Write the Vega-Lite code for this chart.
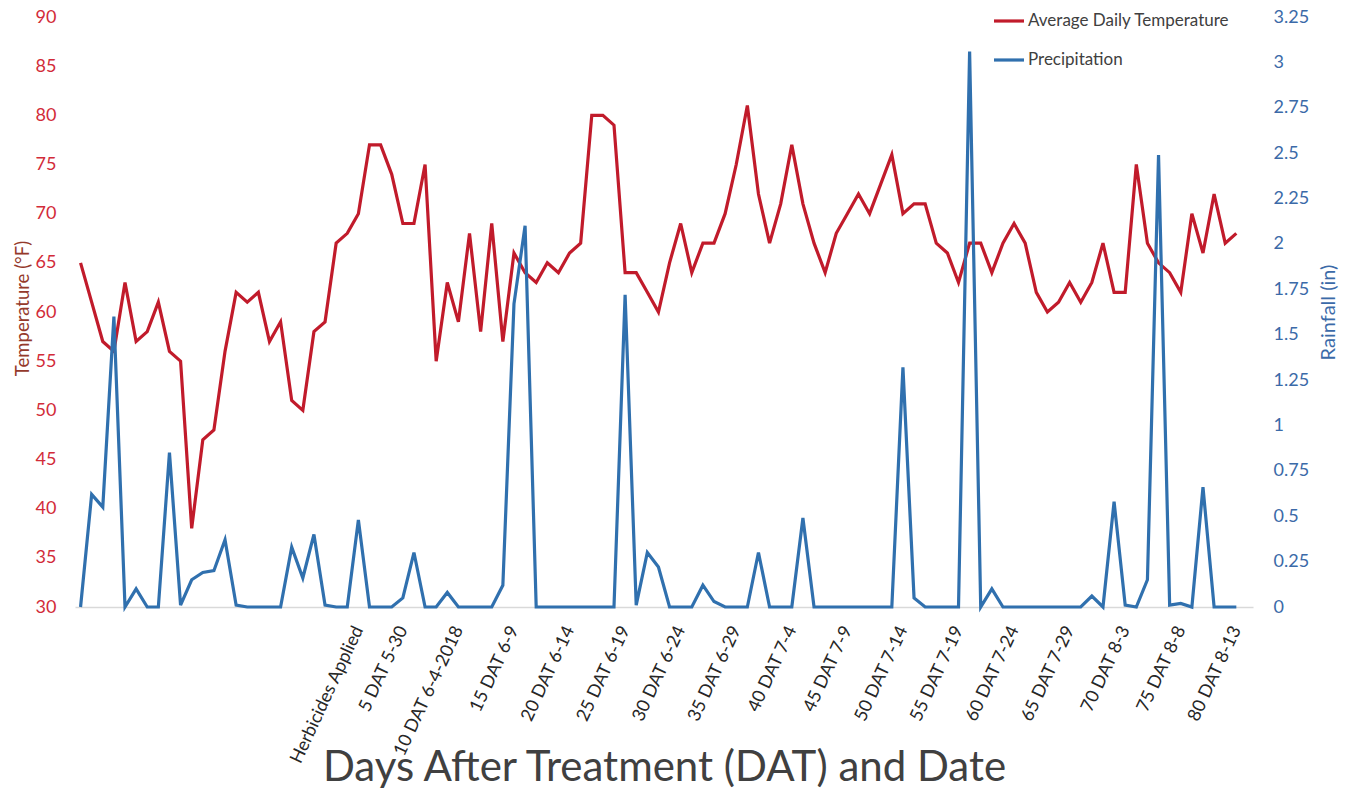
{
  "$schema": "https://vega.github.io/schema/vega-lite/v6.json",
  "width": 1178,
  "height": 590,
  "autosize": "none",
  "padding": {"left": 75, "top": 17, "right": 92, "bottom": 182},
  "background": "white",
  "config": {
    "view": {"stroke": null},
    "font": "Lato",
    "axis": {"grid": false, "ticks": false, "labelFont": "Lato", "titleFont": "Lato", "titleFontWeight": "normal"},
    "legend": {
      "orient": "none",
      "legendX": 917,
      "legendY": -13,
      "padding": 0,
      "symbolType": "stroke",
      "symbolSize": 900,
      "symbolStrokeWidth": 3.2,
      "labelFont": "Lato",
      "labelFontSize": 17,
      "labelColor": "#404040",
      "labelOffset": 2,
      "labelLimit": 0,
      "rowPadding": 14,
      "titleFontSize": 0
    }
  },
  "data": {
    "values": [
      {"i":0,"t":65,"p":0},{"i":1,"t":61,"p":0.62},{"i":2,"t":57,"p":0.55},{"i":3,"t":56,"p":1.6},{"i":4,"t":63,"p":0},
      {"i":5,"t":57,"p":0.1},{"i":6,"t":58,"p":0},{"i":7,"t":61,"p":0},{"i":8,"t":56,"p":0.85},{"i":9,"t":55,"p":0.01},
      {"i":10,"t":38,"p":0.15},{"i":11,"t":47,"p":0.19},{"i":12,"t":48,"p":0.2},{"i":13,"t":56,"p":0.37},{"i":14,"t":62,"p":0.01},
      {"i":15,"t":61,"p":0},{"i":16,"t":62,"p":0},{"i":17,"t":57,"p":0},{"i":18,"t":59,"p":0},{"i":19,"t":51,"p":0.33},
      {"i":20,"t":50,"p":0.16},{"i":21,"t":58,"p":0.4},{"i":22,"t":59,"p":0.01},{"i":23,"t":67,"p":0},{"i":24,"t":68,"p":0},
      {"i":25,"t":70,"p":0.48},{"i":26,"t":77,"p":0},{"i":27,"t":77,"p":0},{"i":28,"t":74,"p":0},{"i":29,"t":69,"p":0.05},
      {"i":30,"t":69,"p":0.3},{"i":31,"t":75,"p":0},{"i":32,"t":55,"p":0},{"i":33,"t":63,"p":0.08},{"i":34,"t":59,"p":0},
      {"i":35,"t":68,"p":0},{"i":36,"t":58,"p":0},{"i":37,"t":69,"p":0},{"i":38,"t":57,"p":0.12},{"i":39,"t":66,"p":1.67},
      {"i":40,"t":64,"p":2.1},{"i":41,"t":63,"p":0},{"i":42,"t":65,"p":0},{"i":43,"t":64,"p":0},{"i":44,"t":66,"p":0},
      {"i":45,"t":67,"p":0},{"i":46,"t":80,"p":0},{"i":47,"t":80,"p":0},{"i":48,"t":79,"p":0},{"i":49,"t":64,"p":1.72},
      {"i":50,"t":64,"p":0.01},{"i":51,"t":62,"p":0.3},{"i":52,"t":60,"p":0.22},{"i":53,"t":65,"p":0},{"i":54,"t":69,"p":0},
      {"i":55,"t":64,"p":0},{"i":56,"t":67,"p":0.12},{"i":57,"t":67,"p":0.03},{"i":58,"t":70,"p":0},{"i":59,"t":75,"p":0},
      {"i":60,"t":81,"p":0},{"i":61,"t":72,"p":0.3},{"i":62,"t":67,"p":0},{"i":63,"t":71,"p":0},{"i":64,"t":77,"p":0},
      {"i":65,"t":71,"p":0.49},{"i":66,"t":67,"p":0},{"i":67,"t":64,"p":0},{"i":68,"t":68,"p":0},{"i":69,"t":70,"p":0},
      {"i":70,"t":72,"p":0},{"i":71,"t":70,"p":0},{"i":72,"t":73,"p":0},{"i":73,"t":76,"p":0},{"i":74,"t":70,"p":1.32},
      {"i":75,"t":71,"p":0.05},{"i":76,"t":71,"p":0},{"i":77,"t":67,"p":0},{"i":78,"t":66,"p":0},{"i":79,"t":63,"p":0},
      {"i":80,"t":67,"p":3.06},{"i":81,"t":67,"p":0},{"i":82,"t":64,"p":0.1},{"i":83,"t":67,"p":0},{"i":84,"t":69,"p":0},
      {"i":85,"t":67,"p":0},{"i":86,"t":62,"p":0},{"i":87,"t":60,"p":0},{"i":88,"t":61,"p":0},{"i":89,"t":63,"p":0},
      {"i":90,"t":61,"p":0},{"i":91,"t":63,"p":0.06},{"i":92,"t":67,"p":0},{"i":93,"t":62,"p":0.58},{"i":94,"t":62,"p":0.01},
      {"i":95,"t":75,"p":0},{"i":96,"t":67,"p":0.15},{"i":97,"t":65,"p":2.49},{"i":98,"t":64,"p":0.01},{"i":99,"t":62,"p":0.02},
      {"i":100,"t":70,"p":0},{"i":101,"t":66,"p":0.66},{"i":102,"t":72,"p":0},{"i":103,"t":67,"p":0},{"i":104,"t":68,"p":0}
    ]
  },
  "encoding": {
    "x": {
      "field": "i",
      "type": "quantitative",
      "scale": {"domain": [-0.5, 105.5], "nice": false, "zero": false},
      "axis": {
        "values": [25,29,34,39,44,49,54,59,64,69,74,79,84,89,94,99,104],
        "labelExpr": "['Herbicides Applied','5 DAT 5-30','10 DAT 6-4-2018','15 DAT 6-9','20 DAT 6-14','25 DAT 6-19','30 DAT 6-24','35 DAT 6-29','40 DAT 7-4','45 DAT 7-9','50 DAT 7-14','55 DAT 7-19','60 DAT 7-24','65 DAT 7-29','70 DAT 8-3','75 DAT 8-8','80 DAT 8-13'][indexof([25,29,34,39,44,49,54,59,64,69,74,79,84,89,94,99,104], datum.value)]",
        "labelAngle": -65,
        "labelAlign": "right",
        "labelBaseline": "middle",
        "labelPadding": 20,
        "labelFontSize": 18,
        "labelColor": "#262626",
        "labelOverlap": false,
        "labelBound": false,
        "labelFlush": false,
        "domainColor": "#D9D9D9",
        "domainWidth": 1.5,
        "title": "Days After Treatment (DAT) and Date",
        "titleFontSize": 42,
        "titleColor": "#404040",
        "titleY": 160,
        "titleBaseline": "middle"
      }
    }
  },
  "layer": [
    {
      "mark": {"type": "line", "strokeWidth": 3.2},
      "encoding": {
        "y": {
          "field": "t",
          "type": "quantitative",
          "scale": {"domain": [30, 90], "nice": false, "zero": false},
          "axis": {
            "orient": "left",
            "values": [30,35,40,45,50,55,60,65,70,75,80,85,90],
            "domain": false,
            "labelColor": "#D22B39",
            "labelFontSize": 18,
            "labelPadding": 19,
            "title": "Temperature (°F)",
            "titleColor": "#94392B",
            "titleFontSize": 18.5,
            "titleX": -53,
            "titleY": 291,
            "titleAlign": "center",
            "titleBaseline": "middle",
            "titleAngle": -90
          }
        },
        "color": {
          "datum": "Average Daily Temperature",
          "scale": {"domain": ["Average Daily Temperature", "Precipitation"], "range": ["#C11B2B", "#3070AE"]},
          "legend": {"title": null}
        }
      }
    },
    {
      "mark": {"type": "line", "strokeWidth": 3.2},
      "encoding": {
        "y": {
          "field": "p",
          "type": "quantitative",
          "scale": {"domain": [0, 3.25], "nice": false},
          "axis": {
            "orient": "right",
            "values": [0,0.25,0.5,0.75,1,1.25,1.5,1.75,2,2.25,2.5,2.75,3,3.25],
            "labelExpr": "'' + datum.value",
            "domain": false,
            "labelColor": "#3B6AA8",
            "labelFontSize": 18,
            "labelPadding": 20,
            "title": "Rainfall (in)",
            "titleColor": "#3B6AA8",
            "titleFontSize": 20,
            "titleX": 75,
            "titleY": 295,
            "titleAlign": "center",
            "titleBaseline": "middle",
            "titleAngle": -90
          }
        },
        "color": {"datum": "Precipitation"}
      }
    }
  ],
  "resolve": {"scale": {"y": "independent"}}
}
